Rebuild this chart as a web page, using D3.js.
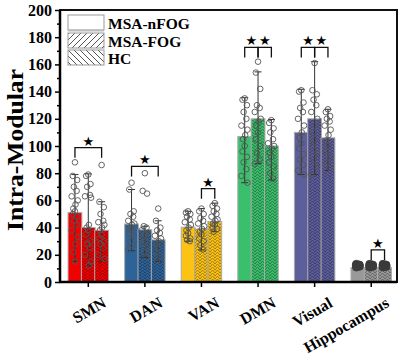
<!DOCTYPE html>
<html lang="en">
  <head>
    <meta charset="UTF-8" />
    <title>Intra-Modular</title>
    <style>
      body { margin: 0; background: #fff; }
      svg text { font-family: "Liberation Serif", "Times New Roman", serif; font-weight: bold; }
    </style>
  </head>
  <body>
    <div id="chart"></div>
    <script src="https://cdn.jsdelivr.net/npm/d3@7"></script>
    <script>

      // data
      var categories = ["SMN", "DAN", "VAN", "DMN", "Visual", "Hippocampus"];
      var groups = ["MSA-nFOG", "MSA-FOG", "HC"];
      var yTicks = [0, 20, 40, 60, 80, 100, 120, 140, 160, 180, 200];

      var meanNFOG = [51, 42.6, 40.3, 107, 110, 10.6];
      var meanFOG  = [40, 38.4, 39, 120, 120, 10.6];
      var meanHC   = [38, 31, 44.5, 100, 106, 10.6];

      var lowNFOG  = [15, 23, 30, 73, 79, 9];
      var highNFOG = [79, 68, 52, 135.5, 141.7, 12];
      var lowFOG   = [12, 18, 23.6, 87, 79, 9];
      var highFOG  = [79.5, 41, 54, 154.5, 162, 12];
      var lowHC    = [15, 15, 37, 75, 82, 9];
      var highHC   = [59, 45, 58, 119.5, 127, 12];

      var pointsNFOG = [
        [88, 78, 75, 70, 67, 63, 60, 57, 54, 52, 50, 48, 45, 42, 38, 33, 28, 22, 15],
        [73, 68, 52, 50, 48, 45, 43, 42, 40, 38, 36, 34, 30, 27, 24],
        [52, 51, 50, 48, 46, 44, 42, 40, 38, 36, 34, 32, 31, 30],
        [135, 134, 130, 125, 120, 115, 112, 108, 105, 100, 96, 92, 88, 83, 78, 73],
        [141, 140, 132, 128, 125, 120, 115, 110, 106, 102, 98, 94, 90, 86, 82, 79],
        [13, 12.5, 12, 11.5, 11]
      ];
      var pointsFOG = [
        [79, 78, 72, 70, 64, 63, 62, 42, 40, 38, 35, 30, 28, 25, 20, 15, 12],
        [80, 67, 65, 41, 40, 38, 36, 35, 33, 30, 28, 25, 22, 18],
        [54, 52, 50, 47, 45, 43, 41, 39, 37, 35, 32, 30, 27, 24],
        [162, 154, 142, 130, 128, 125, 120, 118, 115, 110, 105, 100, 95, 90, 87],
        [161, 141, 138, 134, 130, 125, 120, 115, 110, 105, 100, 95, 90, 85, 79],
        [13, 12.5, 12, 11.5, 11]
      ];
      var pointsHC = [
        [86, 59, 55, 50, 45, 44, 42, 40, 38, 35, 32, 30, 28, 25, 20, 17],
        [54, 45, 40, 38, 36, 34, 32, 30, 28, 25, 22, 19, 16],
        [58, 56, 54, 52, 50, 48, 46, 45, 43, 42, 40, 39, 37],
        [119, 117, 113, 110, 105, 102, 100, 98, 95, 92, 88, 85, 80, 76],
        [127, 125, 122, 120, 118, 115, 112, 108, 104, 100, 96, 92, 88, 84],
        [13, 12.5, 12, 11.5, 11]
      ];

      // significance brackets: category, bar from, bar to, level
      var sigCats  = ["SMN", "DAN", "VAN", "DMN", "DMN", "Visual", "Visual", "Hippocampus"];
      var sigFrom  = [0, 0, 1, 0, 1, 0, 1, 1];
      var sigTo    = [2, 2, 2, 1, 2, 1, 2, 2];
      var sigLevel = [98.8, 85, 68.6, 172.5, 172.5, 172.5, 172.5, 23.6];

      var catColors = ["#f00000", "#2e6399", "#fcc314", "#3cbf6c", "#5d5e9c", "#999999"];

      var W = 400, H = 361;
      var plot = { left: 60, right: 397, top: 10, bottom: 282 };

      var svg = d3.select("#chart").append("svg")
                  .attr("width", W)
                  .attr("height", H);

      var xScale = d3.scaleBand()
                     .domain(categories)
                     .range([plot.left, 399.5]);
      var xSub = d3.scaleBand()
                   .domain([0, 1, 2])
                   .range([-20, 20]);
      var yScale = d3.scaleLinear()
                     .domain([0, 200])
                     .range([plot.bottom, plot.top]);

      // herringbone patterns for the hatched bars
      var defs = svg.append("defs");
      catColors.forEach(function(c, i) {
        var p = defs.append("pattern")
                    .attr("id", "herring" + i)
                    .attr("patternUnits", "userSpaceOnUse")
                    .attr("width", 5)
                    .attr("height", 3);
        p.append("rect").attr("width", 5).attr("height", 3).attr("fill", c);
        p.append("path")
         .attr("d", "M0,3L2.5,0L5,3M-2.5,3L0,0M5,0L7.5,3")
         .attr("fill", "none")
         .attr("stroke", d3.color(c).darker(1.4))
         .attr("stroke-width", 0.9);
      });
      var lg1 = defs.append("pattern")
                    .attr("id", "legFwd")
                    .attr("patternUnits", "userSpaceOnUse")
                    .attr("width", 6).attr("height", 6);
      lg1.append("path").attr("d", "M0,6L6,0M-1,1L1,-1M5,7L7,5")
         .attr("stroke", "#555").attr("stroke-width", 1);
      var lg2 = defs.append("pattern")
                    .attr("id", "legBack")
                    .attr("patternUnits", "userSpaceOnUse")
                    .attr("width", 6).attr("height", 6);
      lg2.append("path").attr("d", "M0,0L6,6M-1,5L1,7M5,-1L7,1")
         .attr("stroke", "#555").attr("stroke-width", 1);

      var means = [meanNFOG, meanFOG, meanHC];
      var lows = [lowNFOG, lowFOG, lowHC];
      var highs = [highNFOG, highFOG, highHC];
      var points = [pointsNFOG, pointsFOG, pointsHC];

      var bars = [];
      categories.forEach(function(cat, ci) {
        groups.forEach(function(g, gi) {
          bars.push({ cat: cat, ci: ci, gi: gi, mean: means[gi][ci],
                      low: lows[gi][ci], high: highs[gi][ci], pts: points[gi][ci] });
        });
      });

      function cx(d) {
        return xScale(d.cat) + xScale.bandwidth() / 2 + xSub(d.gi) + xSub.bandwidth() / 2;
      }

      svg.selectAll("rect.bars")
         .data(bars)
         .enter()
         .append("rect")
         .attr("class", "bars")
         .attr("x", function(d) { return cx(d) - 6.9; })
         .attr("y", function(d) { return yScale(d.mean); })
         .attr("width", 13.8)
         .attr("height", function(d) { return plot.bottom - yScale(d.mean); })
         .attr("fill", function(d) { return d.gi == 0 ? catColors[d.ci] : "url(#herring" + d.ci + ")"; })
         .attr("stroke", "#aaa")
         .attr("stroke-width", 1);

      // whiskers
      var wk = svg.selectAll("g.whisker")
                  .data(bars.filter(function(d) { return d.cat != "Hippocampus"; }))
                  .enter()
                  .append("g")
                  .attr("class", "whisker")
                  .attr("stroke", "#333")
                  .attr("stroke-width", 1);
      wk.append("line")
        .attr("x1", cx).attr("x2", cx)
        .attr("y1", function(d) { return yScale(d.low); })
        .attr("y2", function(d) { return yScale(d.high); });
      wk.append("line")
        .attr("x1", function(d) { return cx(d) - 3.5; })
        .attr("x2", function(d) { return cx(d) + 3.5; })
        .attr("y1", function(d) { return yScale(d.low); })
        .attr("y2", function(d) { return yScale(d.low); });
      wk.append("line")
        .attr("x1", function(d) { return cx(d) - 3.5; })
        .attr("x2", function(d) { return cx(d) + 3.5; })
        .attr("y1", function(d) { return yScale(d.high); })
        .attr("y2", function(d) { return yScale(d.high); });

      // scatter points
      var jitter = [0, -2, 2, -1, 1.5, -3, 2.5, 0.5, -1.5];
      var pts = [];
      bars.forEach(function(b) {
        b.pts.forEach(function(v, i) {
          pts.push({ b: b, v: v, i: i });
        });
      });
      svg.selectAll("circle.points")
         .data(pts)
         .enter()
         .append("circle")
         .attr("class", "points")
         .attr("cx", function(d) {
           if (d.b.cat == "Hippocampus") return cx(d.b) + (d.i % 2 ? 1.5 : -1.5);
           return cx(d.b) + jitter[d.i % jitter.length] * 1.1;
         })
         .attr("cy", function(d) { return yScale(d.v); })
         .attr("r", function(d) { return d.b.cat == "Hippocampus" ? 4 : 2.8; })
         .attr("fill", function(d) { return d.b.cat == "Hippocampus" ? "#3a3a3a" : "none"; })
         .attr("stroke", function(d) { return d.b.cat == "Hippocampus" ? "#3a3a3a" : "#555"; })
         .attr("stroke-width", 0.9);

      // significance brackets
      sigCats.forEach(function(cat, i) {
        var base = xScale(cat) + xScale.bandwidth() / 2;
        var x1 = base + xSub(sigFrom[i]) + xSub.bandwidth() / 2;
        var x2 = base + xSub(sigTo[i]) + xSub.bandwidth() / 2;
        var yt = yScale(sigLevel[i]);
        svg.append("path")
           .attr("d", "M" + x1 + "," + (yt + 10) + "V" + yt + "H" + x2 + "V" + (yt + 10))
           .attr("fill", "none")
           .attr("stroke", "#111")
           .attr("stroke-width", 1.3);
        svg.append("text")
           .attr("x", (x1 + x2) / 2)
           .attr("y", yt - 2)
           .attr("text-anchor", "middle")
           .style("font-family", "DejaVu Sans")
           .style("font-size", "13px")
           .text("\u2605");
      });

      // axes
      var yAxis = d3.axisLeft(yScale)
                    .tickValues(yTicks)
                    .tickSize(5)
                    .tickPadding(3);
      var yMinor = d3.axisLeft(yScale)
                     .tickValues(d3.range(10, 200, 20))
                     .tickSize(3)
                     .tickFormat("");
      var gy = svg.append("g")
                  .attr("class", "y-axis")
                  .attr("transform", "translate(" + plot.left + ",0)")
                  .call(yAxis);
      svg.append("g")
         .attr("transform", "translate(" + plot.left + ",0)")
         .call(yMinor)
         .select(".domain").remove();
      gy.selectAll("text").style("font-size", "16px").attr("fill", "#000");
      svg.selectAll(".tick line").attr("stroke-width", 1.5);

      var xAxis = d3.axisBottom(xScale).tickSize(5).tickFormat("");
      svg.append("g")
         .attr("class", "x-axis")
         .attr("transform", "translate(0," + plot.bottom + ")")
         .call(xAxis)
         .selectAll(".tick line").attr("stroke-width", 1.5);
      svg.selectAll(".domain").remove();

      // frame
      svg.append("rect")
         .attr("x", plot.left)
         .attr("y", plot.top)
         .attr("width", plot.right - plot.left)
         .attr("height", plot.bottom - plot.top)
         .attr("fill", "none")
         .attr("stroke", "#111")
         .attr("stroke-width", 2);
      svg.append("line")
         .attr("x1", plot.left - 1).attr("x2", plot.right)
         .attr("y1", plot.bottom).attr("y2", plot.bottom)
         .attr("stroke", "#000").attr("stroke-width", 2.5);
      svg.append("line")
         .attr("x1", plot.left).attr("x2", plot.left)
         .attr("y1", plot.top).attr("y2", plot.bottom + 1)
         .attr("stroke", "#000").attr("stroke-width", 2.5);

      // category labels
      svg.selectAll("text.cat")
         .data(categories)
         .enter()
         .append("text")
         .attr("class", "cat")
         .attr("text-anchor", "end")
         .attr("transform", function(d) {
           return "translate(" + (xScale(d) + xScale.bandwidth() / 2 + 19) + ",306)rotate(-30)";
         })
         .style("font-size", "16px")
         .text(function(d) { return d; });

      svg.append("text")
         .attr("text-anchor", "middle")
         .attr("transform", "translate(23,150)rotate(-90)")
         .attr("textLength", 162)
         .attr("lengthAdjust", "spacingAndGlyphs")
         .style("font-size", "24px")
         .text("Intra-Modular");

      // legend
      var legFills = ["#fff", "url(#legFwd)", "url(#legBack)"];
      var legY = [15, 33, 50];
      groups.forEach(function(g, i) {
        svg.append("rect")
           .attr("x", 68).attr("y", legY[i])
           .attr("width", 36).attr("height", 15)
           .attr("fill", legFills[i])
           .attr("stroke", "#999")
           .attr("stroke-width", 1);
        svg.append("text")
           .attr("x", 108)
           .attr("y", legY[i] + 13.5)
           .style("font-size", "15.5px")
           .text(g);
      });
      svg.append("line")
         .attr("x1", 68).attr("x2", 104)
         .attr("y1", 30.5).attr("y2", 30.5)
         .attr("stroke", "#bbb").attr("stroke-width", 2);

    </script>
  </body>
</html>
